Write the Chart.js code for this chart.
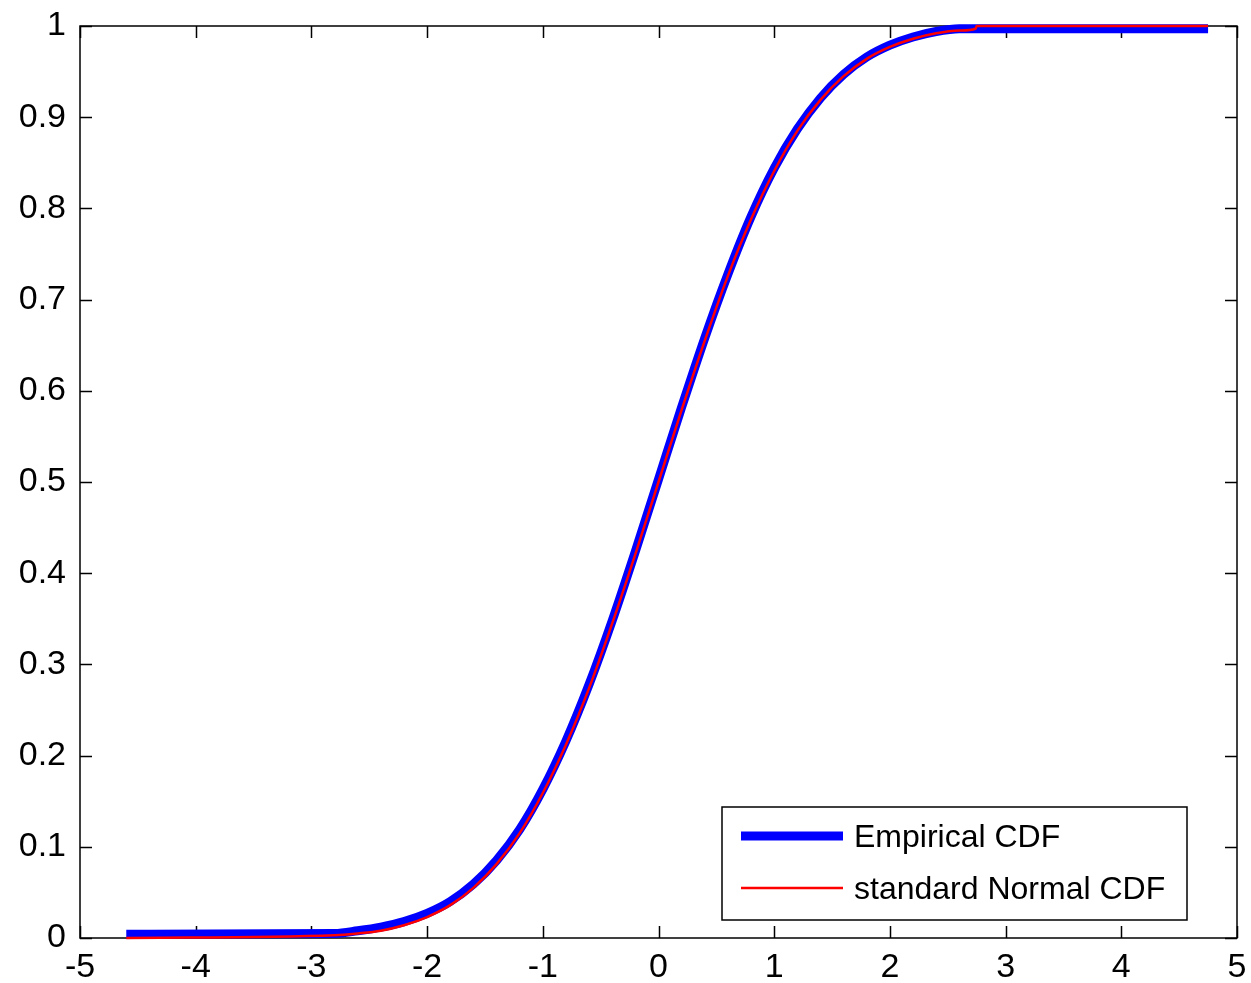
<!DOCTYPE html>
<html lang="en">
<head>
<meta charset="UTF-8">
<title>Empirical CDF</title>
<script src="https://cdn.jsdelivr.net/npm/chart.js"></script>
<style>
  html, body { margin: 0; padding: 0; background: #fff; }
</style>
</head>
<body>
<canvas id="grafico" width="1251" height="983"></canvas>
<script>
    // sample points along the x axis
    var pontos = [-4.6, -2.8, -2.6, -2.4, -2.2, -2.0, -1.8, -1.6, -1.4, -1.2, -1.0,
                  -0.8, -0.6, -0.4, -0.2, 0, 0.2, 0.4, 0.6, 0.8, 1.0,
                  1.2, 1.4, 1.6, 1.8, 2.0, 2.2, 2.4, 2.6, 2.74, 2.75, 4.75];
    var empirica = [0.004, 0.005, 0.008, 0.012, 0.018, 0.027, 0.040, 0.059, 0.085, 0.119, 0.163,
                    0.216, 0.278, 0.348, 0.424, 0.503, 0.582, 0.658, 0.728, 0.791, 0.844,
                    0.887, 0.921, 0.947, 0.966, 0.979, 0.988, 0.994, 0.997, 0.997, 0.997, 0.997];
    var normal = [0.000, 0.003, 0.005, 0.008, 0.014, 0.023, 0.036, 0.055, 0.081, 0.115, 0.159,
                  0.212, 0.274, 0.345, 0.421, 0.500, 0.579, 0.655, 0.726, 0.788, 0.841,
                  0.885, 0.919, 0.945, 0.964, 0.977, 0.986, 0.992, 0.995, 0.997, 1.000, 1.000];
    var ticksX = [-5, -4, -3, -2, -1, 0, 1, 2, 3, 4, 5];
    var ticksY = [0, 0.1, 0.2, 0.3, 0.4, 0.5, 0.6, 0.7, 0.8, 0.9, 1];

    var fonte = { family: "'Liberation Sans', Arial, sans-serif", size: 32 };
    var fonteEixo = { family: "'Liberation Sans', Arial, sans-serif", size: 34 };

    function pares(xs, ys) {
        var out = [];
        for (var i = 0; i < xs.length; i++) {
            out.push({ x: xs[i], y: ys[i] });
        }
        return out;
    }

    // box around the axes with inward ticks on every side
    const moldura = {
        id: 'moldura',
        beforeDatasetsDraw(chart) {
            const c = chart.ctx;
            const a = chart.chartArea;
            const sx = chart.scales.x;
            const sy = chart.scales.y;
            const tam = 12;
            c.save();
            c.strokeStyle = '#000';
            c.lineWidth = 1.5;
            c.strokeRect(a.left, a.top, a.right - a.left, a.bottom - a.top);
            c.beginPath();
            ticksX.forEach(v => {
                const px = Math.round(sx.getPixelForValue(v)) + 0.5;
                c.moveTo(px, a.bottom); c.lineTo(px, a.bottom - tam);
                c.moveTo(px, a.top); c.lineTo(px, a.top + tam);
            });
            ticksY.forEach(v => {
                const py = Math.round(sy.getPixelForValue(v)) + 0.5;
                c.moveTo(a.left, py); c.lineTo(a.left + tam, py);
                c.moveTo(a.right, py); c.lineTo(a.right - tam, py);
            });
            c.stroke();
            c.restore();
        }
    };

    // legend box in the lower right corner of the axes
    const legenda = {
        id: 'legenda',
        afterDatasetsDraw(chart) {
            const c = chart.ctx;
            const a = chart.chartArea;
            const w = 465, h = 113;
            const x0 = a.right - 50 - w;
            const y0 = a.bottom - 18 - h;
            c.save();
            c.fillStyle = '#fff';
            c.fillRect(x0, y0, w, h);
            c.strokeStyle = '#000';
            c.lineWidth = 1.5;
            c.strokeRect(x0, y0, w, h);
            c.font = fonte.size + 'px ' + fonte.family;
            c.textBaseline = 'middle';
            chart.data.datasets.forEach((ds, i) => {
                const yy = y0 + 29 + i * 52;
                c.strokeStyle = ds.borderColor;
                c.lineWidth = ds.borderWidth;
                c.beginPath();
                c.moveTo(x0 + 19, yy);
                c.lineTo(x0 + 121, yy);
                c.stroke();
                c.fillStyle = '#000';
                c.fillText(ds.label, x0 + 132, yy + 2);
            });
            c.restore();
        }
    };

    const ctx = document.getElementById('grafico');

    var grafico = new Chart(ctx, {
        type: 'line',
        data: {
            datasets: [{
                label: 'Empirical CDF',
                data: pares(pontos, empirica),
                borderColor: '#0000ff',
                borderWidth: 9,
                pointRadius: 0,
                cubicInterpolationMode: 'monotone',
                clip: false,
                order: 2
            }, {
                label: 'standard Normal CDF',
                data: pares(pontos, normal),
                borderColor: '#ff0000',
                borderWidth: 2.5,
                pointRadius: 0,
                cubicInterpolationMode: 'monotone',
                clip: false,
                order: 1
            }]
        },
        options: {
            responsive: false,
            animation: false,
            devicePixelRatio: 1,
            layout: { padding: { top: 26, right: 14, left: 0, bottom: 0 } },
            plugins: {
                legend: { display: false },
                tooltip: { enabled: false }
            },
            scales: {
                x: {
                    type: 'linear',
                    min: -5,
                    max: 5,
                    afterBuildTicks: s => { s.ticks = ticksX.map(v => ({ value: v })); },
                    afterFit: s => { s.height = 45; s.paddingLeft = 0; s.paddingRight = 0; },
                    grid: { display: false, drawTicks: false },
                    border: { display: false },
                    ticks: {
                        color: '#000',
                        font: fonteEixo,
                        padding: 9,
                        maxRotation: 0,
                        autoSkip: false,
                        callback: v => String(v)
                    }
                },
                y: {
                    type: 'linear',
                    min: 0,
                    max: 1,
                    afterBuildTicks: s => { s.ticks = ticksY.map(v => ({ value: v })); },
                    afterFit: s => { s.width = 80; s.paddingTop = 0; s.paddingBottom = 0; },
                    grid: { display: false, drawTicks: false },
                    border: { display: false },
                    ticks: {
                        color: '#000',
                        font: fonteEixo,
                        padding: 14,
                        autoSkip: false,
                        callback: v => String(Number(v.toFixed(1)))
                    }
                }
            }
        },
        plugins: [moldura, legenda]
    });
</script>
</body>
</html>
